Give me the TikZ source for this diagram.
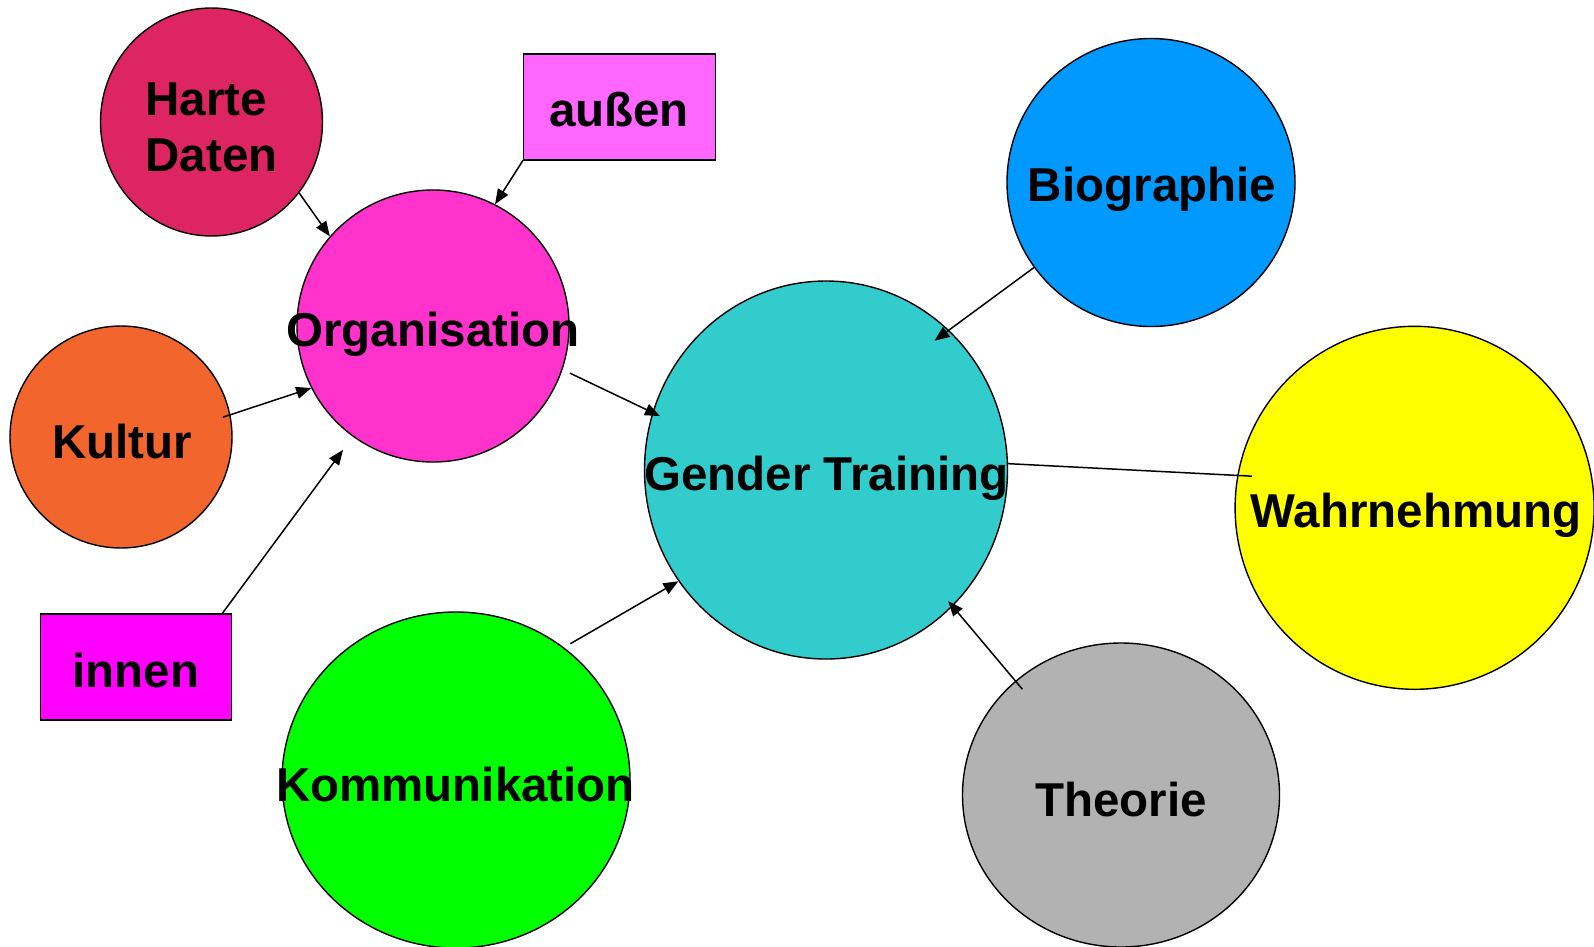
\documentclass[tikz,border=0pt]{standalone}
\usepackage{fontspec}
\setmainfont{Liberation Sans}
\usetikzlibrary{shapes.geometric,arrows.meta,calc}

\definecolor{hartecol}{HTML}{DE2563}
\definecolor{orgcol}{HTML}{FF33CC}
\definecolor{kulturcol}{HTML}{F2652D}
\definecolor{innencol}{HTML}{FF00FF}
\definecolor{aussencol}{HTML}{FF66FF}
\definecolor{gendercol}{HTML}{33CCCC}
\definecolor{biocol}{HTML}{0099FF}
\definecolor{wahrcol}{HTML}{FFFF00}
\definecolor{theocol}{HTML}{B2B2B2}
\definecolor{kommcol}{HTML}{00FF00}

\tikzset{
  bubble/.style={ellipse, draw=black, line width=1.4pt, inner sep=0pt},
  tagbox/.style={rectangle, draw=black, line width=1.4pt, inner sep=0pt},
  lbl/.style={inner sep=0pt, font=\fontsize{47.5}{56}\selectfont\bfseries},
  link/.style={draw=black, line width=1.5pt},
  arrowlink/.style={link, -{Triangle[length=15pt,width=12pt]}},
}

\begin{document}
\begin{tikzpicture}[x=1pt,y=-1pt]
\useasboundingbox (0,0) rectangle (1594,946);

% circles and boxes
\node[bubble, fill=hartecol, minimum width=222pt, minimum height=228pt] (hd) at (211.5,122) {};
\node[bubble, fill=orgcol, minimum width=272pt, minimum height=272pt] (org) at (433,326) {};
\node[bubble, fill=kulturcol, minimum width=222pt, minimum height=222pt] (kul) at (121,437) {};
\node[tagbox, fill=innencol, minimum width=191pt, minimum height=106pt] (inn) at (136.2,667) {};
\node[tagbox, fill=aussencol, minimum width=192pt, minimum height=106pt] (aus) at (619.6,106.8) {};
\node[bubble, fill=gendercol, minimum width=363pt, minimum height=378pt] (gt) at (826,470) {};
\node[bubble, fill=biocol, minimum width=288pt, minimum height=288pt] (bio) at (1151,182.5) {};
\node[bubble, fill=wahrcol, minimum width=359pt, minimum height=363pt] (wah) at (1414.6,507.8) {};
\node[bubble, fill=theocol, minimum width=317pt, minimum height=304pt] (theo) at (1121,795) {};
\node[bubble, fill=kommcol, minimum width=348pt, minimum height=336pt] (kom) at (456,780) {};

% labels
\node[lbl, align=left, anchor=west] (hdtxt) at (145.4,127) {Harte\\Daten};
\node[lbl] (orgtxt) at (433,334) {Organisation};
\node[lbl] (kultxt) at (122,442) {Kultur};
\node[lbl] (inntxt) at (136,671) {innen};
\node[lbl] (austxt) at (619,110) {außen};
\node[lbl] (gttxt) at (826.5,478) {Gender Training};
\node[lbl] (biotxt) at (1152,189) {Biographie};
\node[lbl] (wahtxt) at (1416,515) {Wahrnehmung};
\node[lbl] (komtxt) at (455.5,785) {Kommunikation};
\node[lbl] (theotxt) at (1121,800) {Theorie};

% connectors
\draw[arrowlink] (hd.-39) -- (org.139);
\draw[arrowlink] (aus.south west) -- (org.63);
\draw[arrowlink] ($(kul.center)!0.93!(kul.11)$) -- (org.207);
\draw[arrowlink] ([xshift=-10pt]inn.north east) -- ($(org.center)!1.12!(org.234)$);
\draw[arrowlink] ($(org.center)!1.06!(org.-19)$) -- ($(gt.center)!0.955!(gt.162)$);
\draw[arrowlink] ($(kom.center)!1.04!(kom.50)$) -- (gt.217);
\draw[arrowlink] (bio.216) -- ($(gt.center)!0.905!(gt.50)$);
\draw[arrowlink] ($(theo.center)!0.93!(theo.133)$) -- ($(gt.center)!0.963!(gt.313)$);
\draw[link] (gt.2) -- ($(wah.center)!0.92!(wah.169)$);
\end{tikzpicture}
\end{document}
